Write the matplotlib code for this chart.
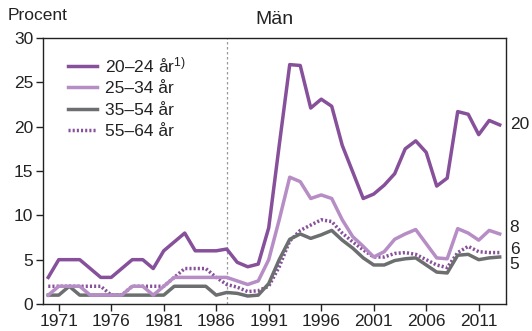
import matplotlib
matplotlib.use("Agg")
import matplotlib.pyplot as plt
from matplotlib.lines import Line2D

plt.rcParams['font.family'] = ['Liberation Sans', 'DejaVu Sans']
plt.rcParams['mathtext.fontset'] = 'custom'
plt.rcParams['mathtext.rm'] = 'Liberation Sans'
plt.rcParams['mathtext.it'] = 'Liberation Sans'

years = list(range(1970, 2014))

age_20_24 = [3, 5, 5, 5, 4, 3, 3, 4, 5, 5,
             4, 6, 7, 8, 6, 6, 6, 6.2, 4.7, 4.2,
             4.5, 8.6, 17.9, 27.0, 26.9, 22.1, 23.1, 22.3, 17.9, 14.9,
             11.9, 12.4, 13.4, 14.7, 17.5, 18.4, 17.1, 13.3, 14.2, 21.7,
             21.4, 19.1, 20.7, 20.2]
age_25_34 = [1, 2, 2, 2, 1, 1, 1, 1, 2, 2,
             1, 2, 3, 3, 3, 3, 3, 3.0, 2.6, 2.2,
             2.6, 5.0, 9.5, 14.3, 13.8, 11.9, 12.3, 11.9, 9.5, 7.6,
             6.5, 5.3, 5.9, 7.3, 7.9, 8.4, 6.8, 5.2, 5.1, 8.5,
             8.0, 7.2, 8.3, 7.9]
age_35_54 = [1, 1, 2, 1, 1, 1, 1, 1, 1, 1,
             1, 1, 2, 2, 2, 2, 1, 1.3, 1.2, 0.9,
             1.0, 2.3, 5.0, 7.3, 7.9, 7.4, 7.8, 8.3, 7.2, 6.3,
             5.2, 4.4, 4.4, 4.9, 5.1, 5.2, 4.4, 3.6, 3.5, 5.5,
             5.6, 5.0, 5.2, 5.3]
age_55_64 = [2, 2, 2, 2, 2, 2, 1, 1, 2, 2,
             2, 2, 3, 4, 4, 4, 3, 2.2, 1.9, 1.4,
             1.5, 2.0, 4.2, 7.1, 8.3, 8.9, 9.5, 9.3, 8.0, 7.0,
             6.1, 5.3, 5.3, 5.7, 5.8, 5.6, 5.0, 4.4, 4.1, 5.8,
             6.5, 5.9, 5.8, 5.8]

series_labels = ["20\u201324 år$^{\\mathrm{1)}}$", "25\u201334 år", "35\u201354 år", "55\u201364 år"]
end_labels = ["20", "8", "6", "5"]
end_label_y = [20.2, 8.6, 6.1, 4.4]

x_ticks = list(range(1971, 2012, 5))
y_ticks = [0, 5, 10, 15, 20, 25, 30]
break_year = 1987

dark = "#87509a"
light = "#b68dc5"
grey = "#6d6e70"
ink = "#222222"

fig = plt.figure(figsize=(5.32, 3.31), dpi=100)
ax = fig.add_axes([43 / 532, 1 - 304 / 331, (506 - 43) / 532, (304 - 38) / 331])

ax.axvline(break_year, color="#9a9a9a", lw=0.9, ls=(0, (2, 2)), zorder=1)

lw = 2.5
dots = (0, (0.6, 0.6))
ax.plot(years, age_55_64, color=dark, lw=lw, ls=dots, zorder=2)
ax.plot(years, age_35_54, color=grey, lw=lw, zorder=3)
ax.plot(years, age_25_34, color=light, lw=lw, zorder=4)
ax.plot(years, age_20_24, color=dark, lw=lw, zorder=5)

ax.set_xlim(1969.5, 2013.6)
ax.set_ylim(0, 30)
ax.set_xticks(x_ticks)
ax.set_xticklabels([str(y) for y in x_ticks])
ax.set_yticks(y_ticks)
ax.tick_params(axis="both", direction="out", length=5, width=1, labelsize=12.5,
               color=ink, labelcolor=ink, pad=2)
for s in ax.spines.values():
    s.set_linewidth(1.0)
    s.set_color(ink)

for lab, yv in zip(end_labels, end_label_y):
    ax.text(1.008, yv, lab, transform=ax.get_yaxis_transform(), fontsize=12.5,
            va="center", ha="left", color=ink)

fig.text(8 / 532, 1 - 15 / 331, "Procent", fontsize=12.5, va="center", ha="left", color=ink)
fig.text(274 / 532, 1 - 20 / 331, "Män", fontsize=14, va="center", ha="center", color=ink)

handles = [
    Line2D([], [], color=dark, lw=lw),
    Line2D([], [], color=light, lw=lw),
    Line2D([], [], color=grey, lw=lw),
    Line2D([], [], color=dark, lw=lw, ls=dots),
]
ax.legend(handles, series_labels, loc="upper left", bbox_to_anchor=(0.055, 0.935),
          frameon=False, fontsize=12.5, handlelength=1.65, handletextpad=0.45,
          labelspacing=0.35, borderaxespad=0, borderpad=0, labelcolor=ink)

fig.savefig("out.png", dpi=100)
